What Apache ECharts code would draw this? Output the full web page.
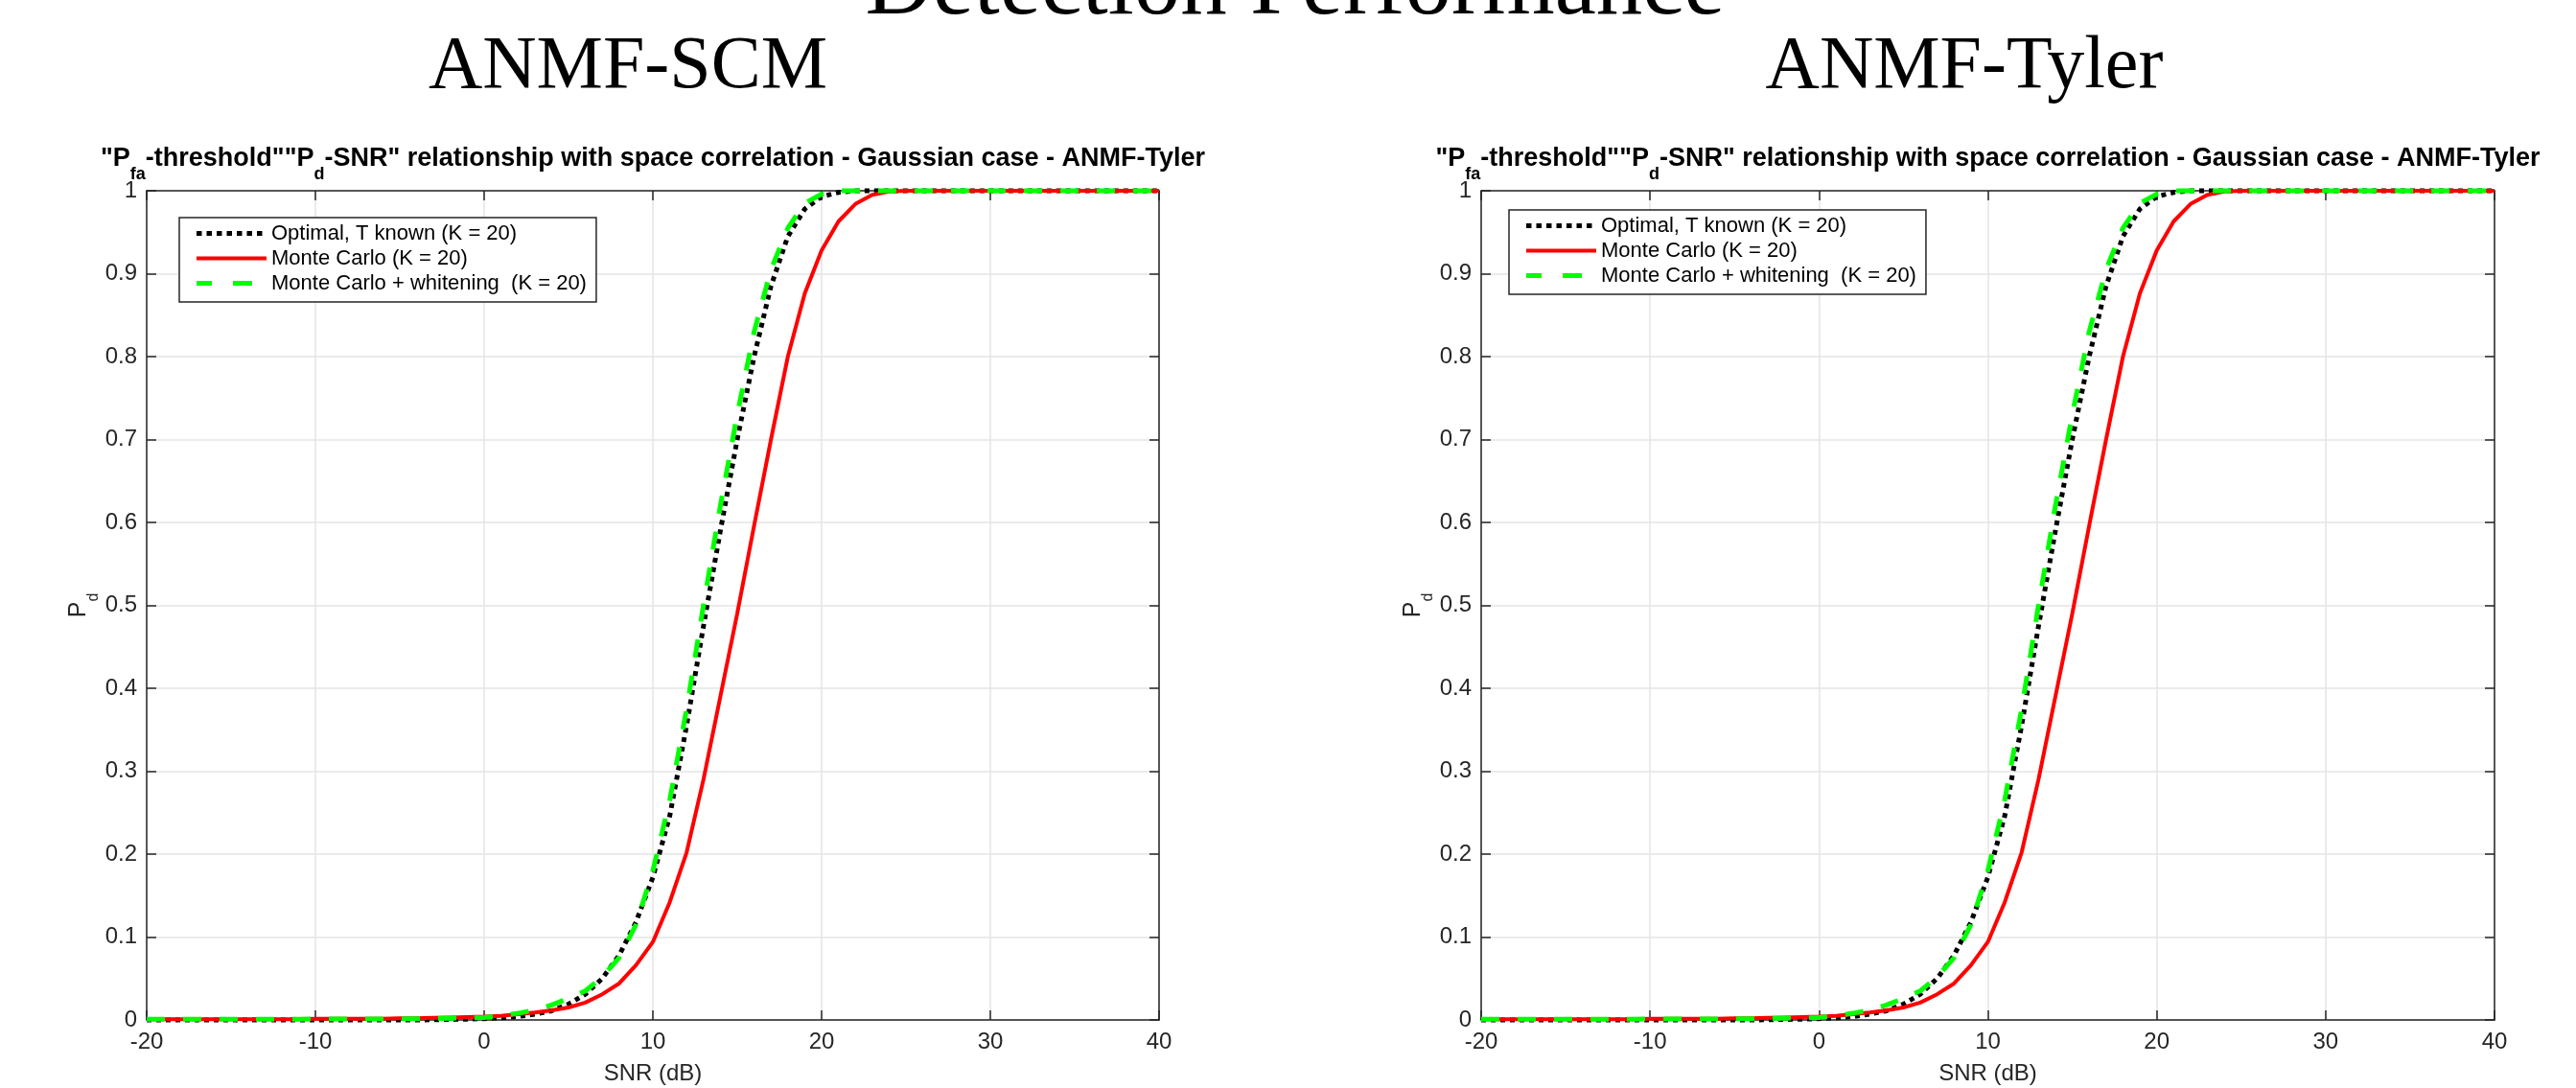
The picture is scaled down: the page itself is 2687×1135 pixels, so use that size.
<!DOCTYPE html>
<html lang="en">
<head>
<meta charset="UTF-8">
<title>Detection Performance</title>
<script src="https://cdn.jsdelivr.net/npm/echarts@6/dist/echarts.min.js"></script>
<style>
  html, body { margin: 0; padding: 0; background: #fff; }
  #chart { width: 2687px; height: 1135px; }
</style>
</head>
<body>
<div id="chart"></div>
<script>
  // SNR in dB, one point per dB
  var snr = [-20, -19, -18, -17, -16, -15, -14, -13, -12, -11,
             -10, -9, -8, -7, -6, -5, -4, -3, -2, -1,
             0, 1, 2, 3, 4, 5, 6, 7, 8, 9,
             10, 11, 12, 13, 14, 15, 16, 17, 18, 19,
             20, 21, 22, 23, 24, 25, 26, 27, 28, 29,
             30, 31, 32, 33, 34, 35, 36, 37, 38, 39, 40];

  // Pd (both panels show the same curves)
  var pdOptimal = [0, 0, 0, 0, 0, 0, 0, 0, 0, 0,
                   0, 0, 0, 0, 0, 0, 0, 0.0003, 0.0006, 0.001,
                   0.0015, 0.0025, 0.004, 0.007, 0.011, 0.019, 0.031, 0.050, 0.078, 0.118,
                   0.172, 0.246, 0.355, 0.475, 0.59, 0.70, 0.80, 0.885, 0.945, 0.978,
                   0.993, 0.998, 1, 1, 1, 1, 1, 1, 1, 1,
                   1, 1, 1, 1, 1, 1, 1, 1, 1, 1, 1];

  var pdMonteCarlo = [0.001, 0.001, 0.001, 0.001, 0.001, 0.001, 0.001, 0.001, 0.001, 0.001,
                      0.0015, 0.0015, 0.0015, 0.0015, 0.0015, 0.002, 0.002, 0.0025, 0.003, 0.0035,
                      0.004, 0.005, 0.007, 0.009, 0.0115, 0.015, 0.021, 0.031, 0.044, 0.066,
                      0.094, 0.142, 0.202, 0.29, 0.39, 0.49, 0.596, 0.70, 0.80, 0.876,
                      0.928, 0.963, 0.984, 0.995, 0.999, 1, 1, 1, 1, 1,
                      1, 1, 1, 1, 1, 1, 1, 1, 1, 1, 1];

  var pdWhitening = [0.001, 0.001, 0.001, 0.001, 0.001, 0.001, 0.001, 0.001, 0.001, 0.001,
                     0.0012, 0.0012, 0.0012, 0.0012, 0.0012, 0.0015, 0.0015, 0.0015, 0.002, 0.0025,
                     0.003, 0.005, 0.008, 0.012, 0.018, 0.026, 0.035, 0.052, 0.075, 0.115,
                     0.18, 0.265, 0.375, 0.50, 0.62, 0.73, 0.83, 0.905, 0.955, 0.985,
                     0.996, 1, 1, 1, 1, 1, 1, 1, 1, 1,
                     1, 1, 1, 1, 1, 1, 1, 1, 1, 1, 1];

  var seriesNames = ['Optimal, T known (K = 20)', 'Monte Carlo (K = 20)', 'Monte Carlo + whitening  (K = 20)'];
  var panelNames = ['ANMF-SCM', 'ANMF-Tyler'];
  var figureTitle = 'Detection Performance';

  // layout of the two panels
  var gridLeft = [153, 1545];
  var gridWidth = [1056, 1057];
  var gridTop = 199;
  var gridHeight = 865;
  var legendLeft = [187, 1574];
  var legendTop = [227, 219];
  var panelTitleX = [655, 2049];

  var axisColor = '#262626';
  var sans = 'Liberation Sans';
  var serif = 'Liberation Serif';

  function pairs(ys) {
    return snr.map(function (x, k) { return [x, ys[k]]; });
  }

  var lineStyles = [
    { color: '#000000', width: 5, type: [5, 5] },
    { color: '#ff0000', width: 4, type: 'solid' },
    { color: '#00ff00', width: 5, type: [19, 19] }
  ];
  // legend samples: dotted, solid, dashed (drawn as small filled bars)
  var legendIcons = [
    'path://M0,0h5.5v5h-5.5zM10.5,0h5.5v5h-5.5zM21,0h5.5v5h-5.5zM31.5,0h5.5v5h-5.5zM42,0h5.5v5h-5.5zM52.5,0h5.5v5h-5.5zM63,0h5.5v5h-5.5zM72.9,0h0.1v0.1h-0.1z',
    'path://M0,0.5h73v4h-73zM0,0h0.1v0.1h-0.1zM0,4.9h0.1v0.1h-0.1z',
    'path://M0,0h16v5h-16zM38,0h20v5h-20zM72.9,0h0.1v0.1h-0.1z'
  ];
  var curves = [pdOptimal, pdMonteCarlo, pdWhitening];

  var grids = [], xAxes = [], yAxes = [], series = [], legends = [], texts = [];

  function boxAxis(extra) {
    var a = {
      type: 'value',
      axisLine: { show: true, onZero: false, lineStyle: { color: axisColor, width: 1.5 } },
      axisTick: { show: true, inside: true, length: 10, lineStyle: { color: axisColor, width: 1.5 } },
      axisLabel: { show: false },
      splitLine: { show: false }
    };
    for (var k in extra) a[k] = extra[k];
    return a;
  }

  for (var i = 0; i < 2; i++) {
    grids.push({ left: gridLeft[i], top: gridTop, width: gridWidth[i], height: gridHeight, outerBoundsMode: 'none' });

    xAxes.push(boxAxis({
      gridIndex: i, position: 'bottom', min: -20, max: 40, interval: 10,
      axisLabel: { show: true, color: axisColor, fontSize: 24, fontFamily: sans, margin: 11 },
      splitLine: { show: true, lineStyle: { color: '#e4e4e4', width: 1.5 } },
      name: 'SNR (dB)', nameLocation: 'middle', nameGap: 44,
      nameTextStyle: { color: axisColor, fontSize: 24, fontFamily: sans }
    }));
    xAxes.push(boxAxis({ gridIndex: i, position: 'top', min: -20, max: 40, interval: 10 }));

    yAxes.push(boxAxis({
      gridIndex: i, position: 'left', min: 0, max: 1, interval: 0.1,
      axisLabel: { show: true, color: axisColor, fontSize: 24, fontFamily: sans, margin: 10 },
      splitLine: { show: true, lineStyle: { color: '#e4e4e4', width: 1.5 } },
      name: '{p|P}{d|d}', nameLocation: 'middle', nameGap: 40, nameRotate: 90,
      nameTextStyle: {
        color: axisColor,
        rich: {
          p: { fontSize: 25, fontFamily: sans, color: axisColor, lineHeight: 36, verticalAlign: 'top' },
          d: { fontSize: 16, fontFamily: sans, color: axisColor, verticalAlign: 'bottom' }
        }
      }
    }));
    yAxes.push(boxAxis({ gridIndex: i, position: 'right', min: 0, max: 1, interval: 0.1 }));

    for (var s = 0; s < 3; s++) {
      series.push({
        type: 'line',
        name: seriesNames[s],
        xAxisIndex: 2 * i,
        yAxisIndex: 2 * i,
        data: pairs(curves[s]),
        symbol: 'none',
        clip: false,
        lineStyle: lineStyles[s],
        itemStyle: { color: lineStyles[s].color },
        z: 3 + s,
        animation: false
      });
    }

    legends.push({
      data: seriesNames.map(function (n, k) { return { name: n, icon: legendIcons[k] }; }),
      orient: 'vertical',
      left: legendLeft[i],
      top: legendTop[i],
      itemWidth: 73,
      itemHeight: 5,
      itemGap: 3,
      symbolKeepAspect: false,
      padding: [5, 10, 8, 18],
      borderColor: axisColor,
      borderWidth: 1.5,
      backgroundColor: '#ffffff',
      selectedMode: false,
      textStyle: { fontSize: 22, fontFamily: sans, color: '#000', lineHeight: 23 }
    });

    // plot title with subscripts
    texts.push({
      type: 'text',
      x: gridLeft[i] + gridWidth[i] / 2,
      y: 152,
      style: {
        text: '{b|"P}{s|fa}{b|-threshold""P}{s|d}{b|-SNR" relationship with space correlation - Gaussian case - ANMF-Tyler}',
        align: 'center',
        verticalAlign: 'top',
        rich: {
          b: { fontSize: 27, fontWeight: 'bold', fontFamily: sans, fill: '#000', lineHeight: 39, verticalAlign: 'top' },
          s: { fontSize: 18, fontWeight: 'bold', fontFamily: sans, fill: '#000', verticalAlign: 'bottom' }
        }
      }
    });

    // panel caption
    texts.push({
      type: 'text',
      x: panelTitleX[i],
      y: 71,
      style: { text: panelNames[i], fontSize: 78, fontFamily: serif, fill: '#000', align: 'center', verticalAlign: 'middle' }
    });
  }

  texts.push({
    type: 'text',
    x: 1351,
    y: -11,
    style: { text: figureTitle, fontSize: 97, fontFamily: serif, fill: '#000', align: 'center', verticalAlign: 'middle' }
  });

  var chart = echarts.init(document.getElementById('chart'));
  chart.setOption({
    animation: false,
    backgroundColor: '#ffffff',
    grid: grids,
    xAxis: xAxes,
    yAxis: yAxes,
    legend: legends,
    series: series,
    graphic: { elements: texts }
  });
</script>
</body>
</html>
